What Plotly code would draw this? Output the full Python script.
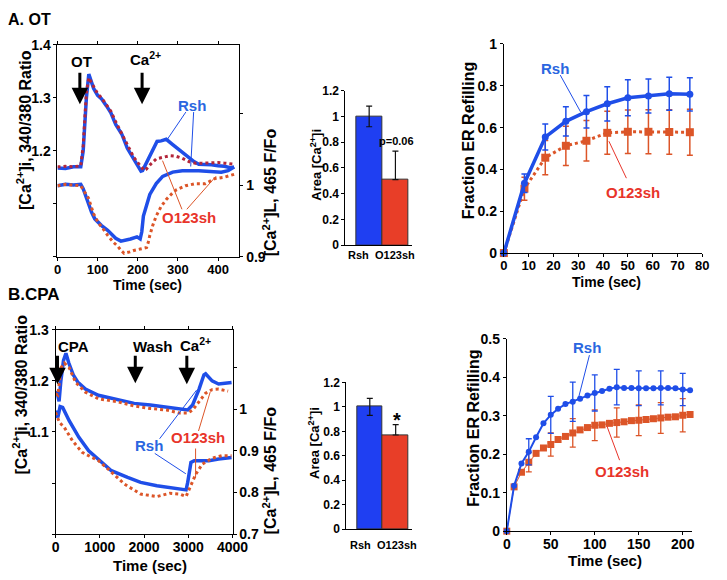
import plotly.graph_objects as go

W, H = 727, 580
FONT = "Liberation Sans, Arial, sans-serif"

BLUE = "#1f4ee8"
RED_DARK = "#b3263a"
RED = "#dc5528"
LBL_BLUE = "#2a66e0"
LBL_RED = "#e8342a"
BAR_BLUE = "#1f3ff2"
BAR_RED = "#e83e28"

# ---------------- A. OT : time course ----------------
A_RSH_CYT_T = [0, 20, 40, 58, 64, 72, 78, 90, 100, 110, 122, 133, 145, 160, 174, 190, 200, 208, 212,
               222, 232, 240, 248, 258, 271, 287, 300, 311, 327, 340, 352, 368, 384, 400, 416, 432, 440]
A_RSH_CYT = [1.168, 1.167, 1.170, 1.170, 1.200, 1.300, 1.345, 1.318, 1.305, 1.298, 1.285, 1.272, 1.250,
             1.232, 1.205, 1.185, 1.172, 1.162, 1.163, 1.178, 1.195, 1.206, 1.218, 1.219, 1.222, 1.212,
             1.204, 1.197, 1.186, 1.180, 1.175, 1.175, 1.174, 1.172, 1.171, 1.168, 1.170]
A_O_CYT_T = [0, 20, 40, 58, 64, 72, 78, 90, 100, 110, 122, 133, 145, 160, 174, 190, 200, 210, 216,
             222, 232, 246, 262, 280, 295, 311, 327, 343, 360, 384, 400, 416, 432, 440]
A_O_CYT = [1.170, 1.171, 1.170, 1.172, 1.210, 1.310, 1.338, 1.320, 1.308, 1.300, 1.288, 1.275, 1.255,
           1.232, 1.210, 1.188, 1.178, 1.168, 1.163, 1.166, 1.175, 1.185, 1.188, 1.191, 1.190, 1.186,
           1.180, 1.177, 1.177, 1.178, 1.178, 1.177, 1.176, 1.175]
A_RSH_ER_T = [0, 20, 40, 58, 64, 72, 85, 93, 109, 125, 133, 145, 158, 170, 182, 198, 206, 210, 214,
              222, 230, 246, 262, 287, 311, 352, 384, 408, 425, 440]
A_RSH_ER = [0.999, 1.001, 1.000, 1.001, 0.995, 0.982, 0.962, 0.953, 0.944, 0.937, 0.933, 0.926, 0.922,
            0.923, 0.925, 0.928, 0.925, 0.935, 0.957, 0.972, 0.987, 1.002, 1.012, 1.018, 1.020, 1.020,
            1.019, 1.018, 1.020, 1.025]
A_O_ER_T = [0, 20, 40, 58, 68, 77, 90, 101, 115, 125, 140, 150, 160, 166, 180, 190, 206, 222, 226,
            230, 238, 246, 258, 271, 285, 295, 319, 343, 368, 392, 416, 440]
A_O_ER = [0.999, 1.001, 1.000, 0.999, 0.990, 0.982, 0.960, 0.948, 0.938, 0.930, 0.920, 0.915, 0.908,
          0.905, 0.907, 0.909, 0.911, 0.913, 0.920, 0.930, 0.945, 0.957, 0.970, 0.980, 0.988, 0.993,
          0.999, 1.002, 1.002, 1.009, 1.011, 1.015]

# ---------------- B. CPA : time course ----------------
B_RSH_CYT_T = [0, 40, 80, 120, 180, 235, 300, 400, 500, 675, 969, 1409, 1776, 2143, 2510, 2804,
               2987, 3097, 3244, 3354, 3391, 3538, 3685, 3978]
B_RSH_CYT = [1.178, 1.176, 1.160, 1.200, 1.240, 1.254, 1.235, 1.212, 1.198, 1.184, 1.172, 1.163,
             1.156, 1.153, 1.148, 1.144, 1.143, 1.153, 1.184, 1.212, 1.214, 1.200, 1.194, 1.197]
B_O_CYT_T = [0, 51, 125, 198, 308, 455, 675, 969, 1409, 1776, 2143, 2510, 2804, 2987, 3097, 3244,
             3391, 3538, 3685, 3900]
B_O_CYT = [1.175, 1.172, 1.226, 1.235, 1.226, 1.197, 1.178, 1.165, 1.159, 1.151, 1.146, 1.143,
           1.137, 1.137, 1.143, 1.159, 1.176, 1.183, 1.184, 1.180]
B_RSH_ER_T = [0, 51, 103, 161, 308, 528, 749, 969, 1262, 1629, 1923, 2290, 2657, 2950, 2987, 3060,
              3134, 3244, 3464, 3685, 3978]
B_RSH_ER = [0.996, 0.980, 1.006, 1.004, 0.972, 0.932, 0.900, 0.880, 0.852, 0.836, 0.824, 0.816,
            0.810, 0.806, 0.824, 0.872, 0.876, 0.876, 0.876, 0.880, 0.884]
B_O_ER_T = [0, 88, 198, 382, 602, 822, 969, 1189, 1556, 1923, 2290, 2583, 2804, 2950, 3060, 3171,
            3318, 3538, 3758, 3978]
B_O_ER = [0.992, 0.968, 0.956, 0.924, 0.896, 0.884, 0.876, 0.856, 0.820, 0.796, 0.790, 0.798,
          0.796, 0.790, 0.816, 0.844, 0.868, 0.882, 0.888, 0.888]

# ---------------- bar charts: Area [Ca2+]i ----------------
BAR_LABELS = ["Rsh", "O123sh"]
A_AREA = [1.0, 0.51]
A_AREA_ERR_UP = [0.08, 0.22]
A_AREA_ERR_DN = [0.08, 0.0]
B_AREA = [1.0, 0.77]
B_AREA_ERR_UP = [0.07, 0.085]
B_AREA_ERR_DN = [0.07, 0.0]

# ---------------- ER refilling ----------------
A_REF_T = [0, 8.3, 16.7, 25, 33.3, 41.7, 50, 58.3, 66.7, 75]
A_REF_RSH = [0, 0.334, 0.555, 0.630, 0.676, 0.714, 0.743, 0.751, 0.762, 0.759]
A_REF_RSH_ERR = [0, 0.044, 0.062, 0.070, 0.078, 0.082, 0.086, 0.081, 0.079, 0.079]
A_REF_O = [0, 0.308, 0.456, 0.513, 0.537, 0.575, 0.580, 0.580, 0.579, 0.578]
A_REF_O_ERR = [0, 0.055, 0.082, 0.094, 0.097, 0.103, 0.104, 0.105, 0.107, 0.110]

B_REF_T = [0, 8.3, 16.7, 25, 33.3, 41.7, 50, 58.3, 66.7, 75, 83.3, 91.7, 100, 108.3, 116.7, 125,
           133.3, 141.7, 150, 158.3, 166.7, 175, 183.3, 191.7, 200, 208.3]
B_REF_RSH = [0, 0.118, 0.176, 0.206, 0.244, 0.280, 0.302, 0.318, 0.330, 0.336, 0.344, 0.352, 0.359,
             0.364, 0.370, 0.374, 0.372, 0.372, 0.371, 0.371, 0.371, 0.372, 0.372, 0.371, 0.368, 0.366]
B_REF_O = [0, 0.115, 0.153, 0.179, 0.202, 0.216, 0.225, 0.238, 0.246, 0.255, 0.263, 0.269, 0.275,
           0.276, 0.280, 0.282, 0.284, 0.287, 0.288, 0.290, 0.292, 0.294, 0.296, 0.297, 0.301, 0.303]
B_REF_ERR_IDX = [3, 6, 9, 12, 15, 18, 21, 24]
B_REF_RSH_ERR = [0.034, 0.048, 0.051, 0.047, 0.046, 0.045, 0.044, 0.042]
B_REF_O_ERR = [0.025, 0.030, 0.037, 0.040, 0.038, 0.040, 0.040, 0.043]


def px(x):
    return x / W


def py(y):
    return 1 - y / H


def tfont(size, color="black"):
    return dict(family=FONT, size=size, color=color, weight="bold")


def axis(dom, **kw):
    d = dict(showline=True, linecolor="black", linewidth=1, ticks="outside",
             ticklen=3, tickcolor="black", showgrid=False, zeroline=False, tickfont=tfont(13))
    if dom is not None:
        d["domain"] = dom
    d.update(kw)
    return d


def xaxis(dom, **kw):
    kw.setdefault("tickfont", tfont(14))
    return axis(dom, ticklabelstandoff=-3, **kw)


fig = go.Figure()

# --- A left
fig.add_trace(go.Scatter(x=A_RSH_CYT_T, y=A_RSH_CYT, mode="lines", line=dict(color=BLUE, width=3.5),
                         xaxis="x", yaxis="y"))
fig.add_trace(go.Scatter(x=A_O_CYT_T, y=A_O_CYT, mode="lines",
                         line=dict(color=RED_DARK, width=3, dash="dot"), xaxis="x", yaxis="y"))
fig.add_trace(go.Scatter(x=A_RSH_ER_T, y=A_RSH_ER, mode="lines", line=dict(color=BLUE, width=3.5),
                         xaxis="x", yaxis="y2"))
fig.add_trace(go.Scatter(x=A_O_ER_T, y=A_O_ER, mode="lines",
                         line=dict(color=RED, width=3, dash="dot"), xaxis="x", yaxis="y2"))

# --- A bar
fig.add_trace(go.Bar(x=[0, 1], y=A_AREA, width=1, marker=dict(color=[BAR_BLUE, BAR_RED],
                     line=dict(color="#333", width=1)),
                     error_y=dict(type="data", array=A_AREA_ERR_UP, arrayminus=A_AREA_ERR_DN,
                                  color="#111", thickness=1.2, width=3),
                     xaxis="x2", yaxis="y3"))

# --- A right
fig.add_trace(go.Scatter(x=A_REF_T, y=A_REF_O, mode="lines+markers", cliponaxis=False,
                         line=dict(color=RED, width=3, dash="dot"),
                         marker=dict(symbol="square", size=8, color=RED),
                         error_y=dict(type="data", array=A_REF_O_ERR, color=RED, thickness=1.5, width=3),
                         xaxis="x3", yaxis="y4"))
fig.add_trace(go.Scatter(x=A_REF_T, y=A_REF_RSH, mode="lines+markers", cliponaxis=False,
                         line=dict(color=BLUE, width=3.5),
                         marker=dict(symbol="circle", size=7, color=BLUE),
                         error_y=dict(type="data", array=A_REF_RSH_ERR, color=BLUE, thickness=1.5, width=3),
                         xaxis="x3", yaxis="y4"))

# --- B left
fig.add_trace(go.Scatter(x=B_RSH_CYT_T, y=B_RSH_CYT, mode="lines", line=dict(color=BLUE, width=3.5),
                         xaxis="x4", yaxis="y5"))
fig.add_trace(go.Scatter(x=B_O_CYT_T, y=B_O_CYT, mode="lines",
                         line=dict(color=RED, width=3, dash="dot"), xaxis="x4", yaxis="y5"))
fig.add_trace(go.Scatter(x=B_RSH_ER_T, y=B_RSH_ER, mode="lines", line=dict(color=BLUE, width=3.5),
                         xaxis="x4", yaxis="y6"))
fig.add_trace(go.Scatter(x=B_O_ER_T, y=B_O_ER, mode="lines",
                         line=dict(color=RED, width=3, dash="dot"), xaxis="x4", yaxis="y6"))

# --- B bar
fig.add_trace(go.Bar(x=[0, 1], y=B_AREA, width=1, marker=dict(color=[BAR_BLUE, BAR_RED],
                     line=dict(color="#333", width=1)),
                     error_y=dict(type="data", array=B_AREA_ERR_UP, arrayminus=B_AREA_ERR_DN,
                                  color="#111", thickness=1.2, width=3),
                     xaxis="x5", yaxis="y7"))

# --- B right
err_t = [B_REF_T[i] for i in B_REF_ERR_IDX]
fig.add_trace(go.Scatter(x=err_t, y=[B_REF_O[i] for i in B_REF_ERR_IDX], mode="markers",
                         marker=dict(opacity=0, color=RED),
                         error_y=dict(type="data", array=B_REF_O_ERR, color=RED, thickness=1.3, width=3),
                         xaxis="x6", yaxis="y8"))
fig.add_trace(go.Scatter(x=B_REF_T, y=B_REF_O, mode="lines+markers", cliponaxis=False,
                         line=dict(color=RED, width=1),
                         marker=dict(symbol="square", size=7, color=RED),
                         xaxis="x6", yaxis="y8"))
fig.add_trace(go.Scatter(x=err_t, y=[B_REF_RSH[i] for i in B_REF_ERR_IDX], mode="markers",
                         marker=dict(opacity=0, color=BLUE),
                         error_y=dict(type="data", array=B_REF_RSH_ERR, color=BLUE, thickness=1.3, width=3),
                         xaxis="x6", yaxis="y8"))
fig.add_trace(go.Scatter(x=B_REF_T, y=B_REF_RSH, mode="lines+markers", cliponaxis=False,
                         line=dict(color=BLUE, width=2),
                         marker=dict(symbol="circle", size=6, color=BLUE),
                         xaxis="x6", yaxis="y8"))

fig.update_layout(
    width=W, height=H, margin=dict(l=0, r=0, t=0, b=0), showlegend=False,
    paper_bgcolor="white", plot_bgcolor="white", bargap=0,
    # A left
    xaxis=xaxis([px(55), px(242)], anchor="y", range=[0, 453], tickvals=[0, 100, 200, 300, 400],
                mirror="ticks", tickfont=tfont(13)),
    yaxis=axis([py(256), py(38)], anchor="x", range=[1.0, 1.4], tickvals=[1.0, 1.1, 1.2, 1.3, 1.4],
               ticktext=["", "", "1.2", "1.3", "1.4"], tickfont=tfont(14)),
    yaxis2=axis(None, overlaying="y", side="right", anchor="x", range=[0.9, 1.195],
                tickvals=[0.9, 1.0, 1.1, 1.2], ticktext=["0.9", "1", "", ""], tickfont=tfont(14)),
    # A bar
    xaxis2=axis([px(351), px(420)], anchor="y3", range=[-0.907, 1.648], showticklabels=False, ticks=""),
    yaxis3=axis([py(244), py(85)], anchor="x2", range=[0, 1.2], dtick=0.2, tickfont=tfont(12)),
    # A right
    xaxis3=xaxis([px(514), px(718)], anchor="y4", range=[0, 80], dtick=10, tickfont=tfont(13)),
    yaxis4=axis([py(252), py(37)], anchor="x3", range=[0, 1], dtick=0.2, tickfont=tfont(14)),
    # B left
    xaxis4=xaxis([px(53), px(235)], anchor="y5", range=[0, 4000], dtick=1000, mirror="ticks"),
    yaxis5=axis([py(541), py(331)], anchor="x4", range=[0.9, 1.3], tickvals=[0.9, 1.0, 1.1, 1.2, 1.3],
                ticktext=["", "", "1.1", "1.2", "1.3"], tickfont=tfont(14)),
    yaxis6=axis(None, overlaying="y5", side="right", anchor="x4", range=[0.7, 1.19],
                tickvals=[0.7, 0.8, 0.9, 1.0, 1.1], ticktext=["0.7", "0.8", "0.9", "1", ""],
                tickfont=tfont(14)),
    # B bar
    xaxis5=axis([px(352), px(420)], anchor="y7", range=[-0.907, 1.648], showticklabels=False, ticks=""),
    yaxis7=axis([py(536), py(385)], anchor="x5", range=[0, 1.2], dtick=0.2, tickfont=tfont(12)),
    # B right
    xaxis6=xaxis([px(517), px(707)], anchor="y8", range=[0, 210], tickvals=[0, 50, 100, 150, 200]),
    yaxis8=axis([py(538), py(340)], anchor="x6", range=[0, 0.5], dtick=0.1, tickfont=tfont(14)),
)

ann = []


def text(x, y, s, size=14, color="black", angle=0, xanchor="center"):
    ann.append(dict(x=px(x), y=py(y), xref="paper", yref="paper", text=s, showarrow=False,
                    font=tfont(size, color), textangle=angle, xanchor=xanchor, yanchor="middle"))


def arrow(x, y0, y1):
    ann.append(dict(x=px(x), y=py(y1), xref="paper", yref="paper", text="", showarrow=True,
                    ax=0, ay=-(y1 - y0), arrowhead=2, arrowsize=1.1, arrowwidth=3, arrowcolor="black"))


shapes = []


def leader(x0, y0, x1, y1, color):
    shapes.append(dict(type="line", xref="paper", yref="paper", x0=px(x0), y0=py(y0), x1=px(x1),
                       y1=py(y1), line=dict(color=color, width=1)))


CA = "[Ca<sup>2+</sup>]"

# panel titles
text(2, 12, "A. OT", 16, xanchor="left")
text(2, 295, "B.CPA", 17, xanchor="left")

# A left
text(20, 125, CA + "i, 340/380 Ratio", 16, angle=-90)
text(273, 189, CA + "L, 465 F/Fo", 16, angle=-90)
text(148, 285, "Time (sec)", 14)
text(80, 55, "OT", 15)
text(146, 52, "Ca<sup>2+</sup>", 15)
arrow(78, 66, 99)
arrow(142, 66, 99)
text(193, 100, "Rsh", 15, LBL_BLUE)
leader(187, 107, 168, 135, BLUE)
leader(195, 107, 192, 163, BLUE)
text(190, 215, "O123sh", 15, LBL_RED)
leader(183, 207, 163, 157, RED)
leader(188, 207, 218, 173, RED)

# A bar
text(320, 161, "Area " + CA + "i", 13, angle=-90)
text(404, 137, "p=0.06", 11)
text(377, 254, BAR_LABELS[0], 11, xanchor="right")
text(379, 254, BAR_LABELS[1], 11, xanchor="left")

# A right
text(477, 136, "Fraction ER Refilling", 16, angle=-90)
text(620, 282, "Time (sec)", 14)
text(567, 62, "Rsh", 15, LBL_BLUE)
leader(572, 69, 593, 107, BLUE)
text(647, 190, "O123sh", 15, LBL_RED)
leader(640, 175, 622, 137, LBL_RED)

# B left
text(17, 398, CA + "i, 340/380 Ratio", 16, angle=-90)
text(273, 475, CA + "L, 465 F/Fo", 16, angle=-90)
text(150, 573, "Time (sec)", 15)
text(71, 348, "CPA", 15)
text(153, 348, "Wash", 15)
text(197, 346, "Ca<sup>2+</sup>", 15)
arrow(55, 357, 387)
arrow(135, 357, 386)
arrow(188, 357, 387)
text(149, 450, "Rsh", 15, LBL_BLUE)
leader(160, 443, 198, 393, BLUE)
leader(155, 458, 187, 479, BLUE)
text(200, 442, "O123sh", 15, LBL_RED)
leader(200, 435, 212, 395, RED)
leader(197, 453, 197, 483, RED)

# B bar
text(318, 447, "Area " + CA + "i", 13, angle=-90)
text(404, 424, "*", 20)
text(379, 552, BAR_LABELS[0], 11, xanchor="right")
text(381, 552, BAR_LABELS[1], 11, xanchor="left")

# B right
text(482, 432, "Fraction ER Refilling", 16, angle=-90)
text(618, 568, "Time (sec)", 15)
text(599, 349, "Rsh", 15, LBL_BLUE)
leader(602, 357, 591, 400, BLUE)
text(635, 477, "O123sh", 15, LBL_RED)
leader(633, 465, 620, 430, LBL_RED)

fig.update_layout(annotations=ann, shapes=shapes)
fig.write_html("out.html", config={"displayModeBar": False},
               post_script="document.body.style.margin='0';"
                           "document.documentElement.style.overflow='hidden';")
